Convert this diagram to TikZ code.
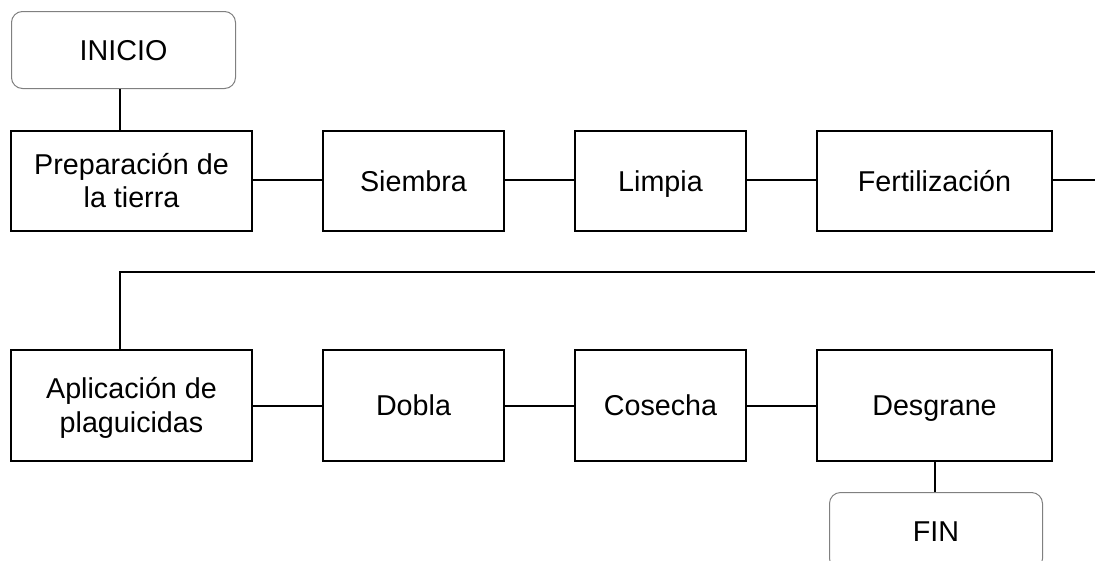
\documentclass[tikz,border=0pt]{standalone}
\usepackage{fontspec}
\setmainfont{Liberation Sans}

\begin{document}
\begin{tikzpicture}[x=1pt,y=-1pt,
  etapa/.style={draw, line width=2pt, minimum height=100pt, inner sep=0pt, align=center, text height=20.5pt, text depth=0pt, font=\fontsize{28.7}{33}\selectfont},
  extremo/.style={draw=black!50, line width=1pt, rounded corners=11pt, minimum width=224pt, minimum height=77pt, inner sep=0pt, text height=20.5pt, text depth=0pt, font=\fontsize{28.7}{33}\selectfont},
  enlace/.style={line width=2pt}]
  \useasboundingbox (0,0) rectangle (1095,560);
  \clip (0,0) rectangle (1095,560);

     % Etapas
  \node[extremo] (ini) at (123.5,50) {INICIO};
  \node[etapa, minimum width=241pt, text height=53.5pt] (prep) at (131.5,181) {Preparación de\\la tierra};
  \node[etapa, minimum width=181pt] (siem) at (413.5,181) {Siembra};
  \node[etapa, minimum width=171pt] (limp) at (660.5,181) {Limpia};
  \node[etapa, minimum width=235pt] (fert) at (934.5,181) {Fertilización};

  \node[etapa, minimum width=241pt, minimum height=111pt, text height=54.5pt] (apli) at (131.5,405.5) {Aplicación de\\[1pt]plaguicidas};
  \node[etapa, minimum width=181pt, minimum height=111pt] (dobl) at (413.5,405.5) {Dobla};
  \node[etapa, minimum width=171pt, minimum height=111pt] (cose) at (660.5,405.5) {Cosecha};
  \node[etapa, minimum width=235pt, minimum height=111pt] (desg) at (934.5,405.5) {Desgrane};
  \node[extremo, minimum width=213pt] (fin) at (936,531) {FIN};

     % Enlaces
  \coordinate (eje) at (120,272);
  \coordinate (der1) at (1095,180);
  \coordinate (der2) at (1095,272);

  \draw[enlace] (ini.south -| eje) -- (prep.north -| eje);
  \draw[enlace] (prep.east |- der1) -- (siem.west |- der1);
  \draw[enlace] (siem.east |- der1) -- (limp.west |- der1);
  \draw[enlace] (limp.east |- der1) -- (fert.west |- der1);
  \draw[enlace] (fert.east |- der1) -- (der1);

  \draw[enlace] (der2) -- (eje) -- (apli.north -| eje);
  \draw[enlace] (apli) -- (dobl);
  \draw[enlace] (dobl) -- (cose);
  \draw[enlace] (cose) -- (desg);
  \draw[enlace] (desg.south) -- (desg.south |- fin.north);

\end{tikzpicture}
\end{document}
